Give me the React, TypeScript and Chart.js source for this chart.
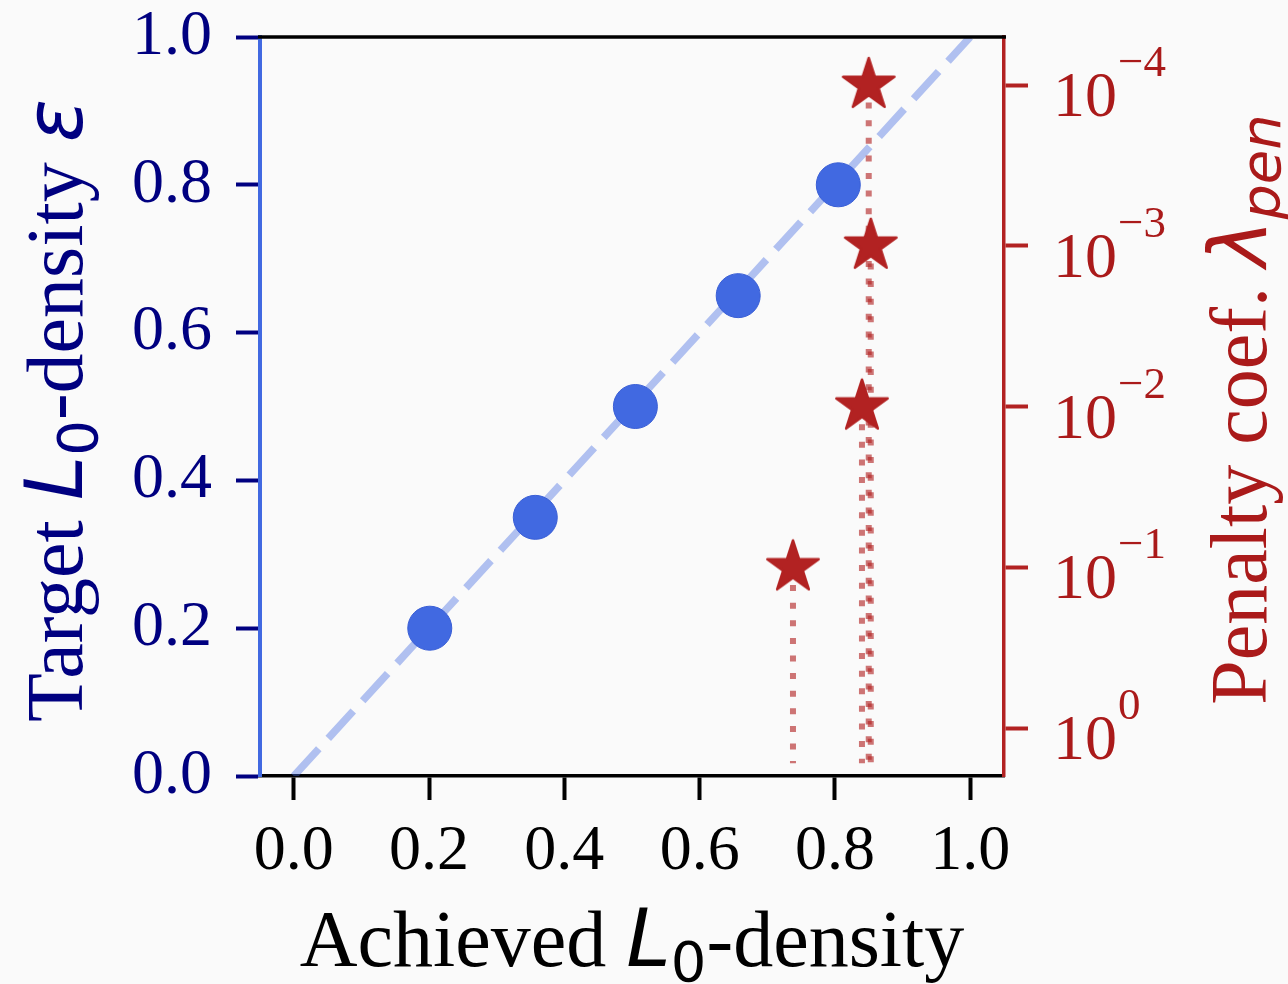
import React, { useEffect, useRef } from 'react';
import { Chart, registerables } from 'chart.js';

Chart.register(...registerables);

// ---- data ----
const achievedDensity = [0.201, 0.357, 0.505, 0.657, 0.805];
const targetDensity = [0.2, 0.35, 0.5, 0.65, 0.8];
const penaltyAchieved = [0.738, 0.84, 0.853, 0.85];
const penaltyCoef = [1e-1, 1e-2, 1e-3, 1e-4];
const stemBase = 1.65;
const identityLine = [0, 1];
const xTickValues = [0, 0.2, 0.4, 0.6, 0.8, 1.0];
const yTickValues = [0, 0.2, 0.4, 0.6, 0.8, 1.0];
const penaltyTickExponents = [-4, -3, -2, -1, 0];
const xRange = [-0.05, 1.05];
const yRange = [0, 1];
const penaltyRange = [Math.pow(10, -4.2985), Math.pow(10, 0.2966)];

const W = 1288;
const H = 984;
const SERIF = '"Liberation Serif", "Times New Roman", serif';
const MATH = '"DejaVu Sans", sans-serif';
const NAVY = '#000080';
const BLUE = '#4169e1';
const RED = '#b22222';
const RED_TEXT = '#aa1a1a';

function makeStar(R: number, color: string): HTMLCanvasElement {
  const size = Math.ceil(2 * R + 8);
  const c = document.createElement('canvas');
  c.width = size;
  c.height = size;
  const g = c.getContext('2d')!;
  const cx = size / 2;
  const cy = size / 2;
  const r = R * 0.381966;
  g.beginPath();
  for (let i = 0; i < 10; i++) {
    const a = -Math.PI / 2 + (i * Math.PI) / 5;
    const rr = i % 2 === 0 ? R : r;
    g.lineTo(cx + rr * Math.cos(a), cy + rr * Math.sin(a));
  }
  g.closePath();
  g.fillStyle = color;
  g.fill();
  g.lineJoin = 'round';
  g.lineWidth = 2.5;
  g.strokeStyle = color;
  g.stroke();
  return c;
}

type Seg = { t: string; f: string; dy?: number };

function drawRich(ctx: CanvasRenderingContext2D, segs: Seg[], cx: number, cy: number, rot: number, color: string) {
  ctx.save();
  ctx.translate(cx, cy);
  ctx.rotate(rot);
  ctx.fillStyle = color;
  ctx.textBaseline = 'alphabetic';
  ctx.textAlign = 'left';
  let w = 0;
  for (const s of segs) {
    ctx.font = s.f;
    w += ctx.measureText(s.t).width;
  }
  let x = -w / 2;
  for (const s of segs) {
    ctx.font = s.f;
    ctx.fillText(s.t, x, s.dy || 0);
    x += ctx.measureText(s.t).width;
  }
  ctx.restore();
}

const zeroPad = (s: any) => {
  s.paddingTop = 0;
  s.paddingBottom = 0;
  s.paddingLeft = 0;
  s.paddingRight = 0;
};

const decorPlugin = {
  id: 'decor',
  beforeDraw(chart: any) {
    const ctx = chart.ctx;
    ctx.save();
    ctx.fillStyle = '#fafafa';
    ctx.fillRect(0, 0, chart.width, chart.height);
    ctx.restore();
  },
  afterDraw(chart: any) {
    const ctx: CanvasRenderingContext2D = chart.ctx;
    const area = chart.chartArea;
    // top spine
    ctx.save();
    ctx.strokeStyle = '#000';
    ctx.lineWidth = 3.5;
    ctx.beginPath();
    ctx.moveTo(area.left - 2, area.top);
    ctx.lineTo(area.right + 2, area.top);
    ctx.stroke();
    ctx.restore();

    // right log-axis labels 10^k
    const y2 = chart.scales.y2;
    ctx.save();
    ctx.fillStyle = RED_TEXT;
    ctx.textAlign = 'left';
    ctx.textBaseline = 'alphabetic';
    for (const e of penaltyTickExponents) {
      const py = y2.getPixelForValue(Math.pow(10, e));
      const x0 = area.right + 49;
      ctx.font = `64px ${SERIF}`;
      ctx.fillText('10', x0, py + 31);
      const w = ctx.measureText('10').width;
      ctx.font = `45px ${SERIF}`;
      const sup = e < 0 ? '\u2212' + String(-e) : String(e);
      ctx.fillText(sup, x0 + w + 1, py + 31 - 40);
    }
    ctx.restore();

    // axis titles
    const big = `80px ${SERIF}`;
    const mathI = `oblique 80px ${MATH}`;
    const sub = `56px ${MATH}`;
    const subI = `oblique 56px ${MATH}`;
    const midY = (area.top + area.bottom) / 2;
    drawRich(
      ctx,
      [
        { t: 'Achieved ', f: big },
        { t: 'L', f: mathI },
        { t: '0', f: sub, dy: 15 },
        { t: '-density', f: big },
      ],
      (area.left + area.right) / 2,
      966,
      0,
      '#000'
    );
    drawRich(
      ctx,
      [
        { t: 'Target ', f: big },
        { t: 'L', f: mathI },
        { t: '0', f: sub, dy: 15 },
        { t: '-density ', f: big },
        { t: '\u03b5', f: mathI },
      ],
      82,
      midY + 4,
      -Math.PI / 2,
      NAVY
    );
    drawRich(
      ctx,
      [
        { t: 'Penalty coef. ', f: big },
        { t: '\u03bb', f: mathI },
        { t: 'pen', f: subI, dy: 14 },
      ],
      1266,
      midY + 3,
      -Math.PI / 2,
      RED_TEXT
    );
  },
};

export default function App() {
  const ref = useRef<HTMLCanvasElement | null>(null);

  useEffect(() => {
    document.body.style.margin = '0';
    document.body.style.background = '#fafafa';
    const canvas = ref.current!;
    const star = makeStar(27, RED);

    const stems = penaltyAchieved.map((x, i) => ({
      type: 'line',
      label: `stem${i}`,
      data: [
        { x, y: penaltyCoef[i] },
        { x, y: stemBase },
      ],
      yAxisID: 'y2',
      borderColor: 'rgba(178,34,34,0.62)',
      borderWidth: 6,
      borderDash: [6, 11.6],
      borderCapStyle: 'butt',
      pointRadius: 0,
      showLine: true,
      order: 2,
    }));

    const chart = new Chart(canvas, {
      type: 'scatter',
      data: {
        datasets: [
          {
            label: 'penalty',
            data: penaltyAchieved.map((x, i) => ({ x, y: penaltyCoef[i] })),
            yAxisID: 'y2',
            pointStyle: star as any,
            pointRadius: 27,
            order: 0,
          },
          {
            label: 'target',
            data: achievedDensity.map((x, i) => ({ x, y: targetDensity[i] })),
            yAxisID: 'y',
            pointRadius: 22,
            pointBackgroundColor: BLUE,
            pointBorderColor: '#3a5fd6',
            pointBorderWidth: 1,
            order: 1,
          },
          ...(stems as any[]),
          {
            type: 'line',
            label: 'identity',
            data: identityLine.map((v) => ({ x: v, y: v })),
            yAxisID: 'y',
            borderColor: 'rgba(65,105,225,0.4)',
            borderWidth: 7.5,
            borderDash: [37, 14],
            borderCapStyle: 'butt',
            pointRadius: 0,
            showLine: true,
            order: 3,
          } as any,
        ],
      },
      options: {
        responsive: false,
        animation: false,
        events: [],
        layout: { padding: { top: 37, left: 0, right: 0, bottom: 0 } },
        plugins: { legend: { display: false }, tooltip: { enabled: false } },
        scales: {
          x: {
            type: 'linear',
            position: 'bottom',
            min: xRange[0],
            max: xRange[1],
            afterBuildTicks: (s: any) => {
              s.ticks = xTickValues.map((v) => ({ value: v }));
            },
            afterFit: (s: any) => {
              s.height = 208;
              zeroPad(s);
            },
            ticks: {
              callback: (v: any) => Number(v).toFixed(1),
              font: { family: SERIF, size: 64, lineHeight: 1 },
              color: '#000',
              padding: 20,
              maxRotation: 0,
              autoSkip: false,
            },
            grid: { drawOnChartArea: false, drawTicks: true, tickLength: 24, tickWidth: 4, tickColor: '#000' },
            border: { color: '#000', width: 3.5 },
          },
          y: {
            type: 'linear',
            position: 'left',
            min: yRange[0],
            max: yRange[1],
            afterBuildTicks: (s: any) => {
              s.ticks = yTickValues.map((v) => ({ value: v }));
            },
            afterFit: (s: any) => {
              s.width = 260;
              zeroPad(s);
            },
            ticks: {
              callback: (v: any) => Number(v).toFixed(1),
              font: { family: SERIF, size: 64, lineHeight: 1 },
              color: NAVY,
              padding: 24,
              autoSkip: false,
            },
            grid: { drawOnChartArea: false, drawTicks: true, tickLength: 24, tickWidth: 4, tickColor: NAVY },
            border: { color: BLUE, width: 4 },
          },
          y2: {
            type: 'logarithmic',
            position: 'right',
            reverse: true,
            min: penaltyRange[0],
            max: penaltyRange[1],
            afterBuildTicks: (s: any) => {
              s.ticks = penaltyTickExponents.map((e) => ({ value: Math.pow(10, e), major: true }));
            },
            afterFit: (s: any) => {
              s.width = 284;
              zeroPad(s);
            },
            ticks: { display: false },
            grid: { drawOnChartArea: false, drawTicks: true, tickLength: 24, tickWidth: 4, tickColor: RED },
            border: { color: RED, width: 3.5 },
          },
        },
      } as any,
      plugins: [decorPlugin as any],
    });

    return () => chart.destroy();
  }, []);

  return (
    <div style={{ position: 'fixed', left: 0, top: 0, width: W, height: H }}>
      <canvas ref={ref} width={W} height={H} style={{ display: 'block', width: W, height: H }} />
    </div>
  );
}
